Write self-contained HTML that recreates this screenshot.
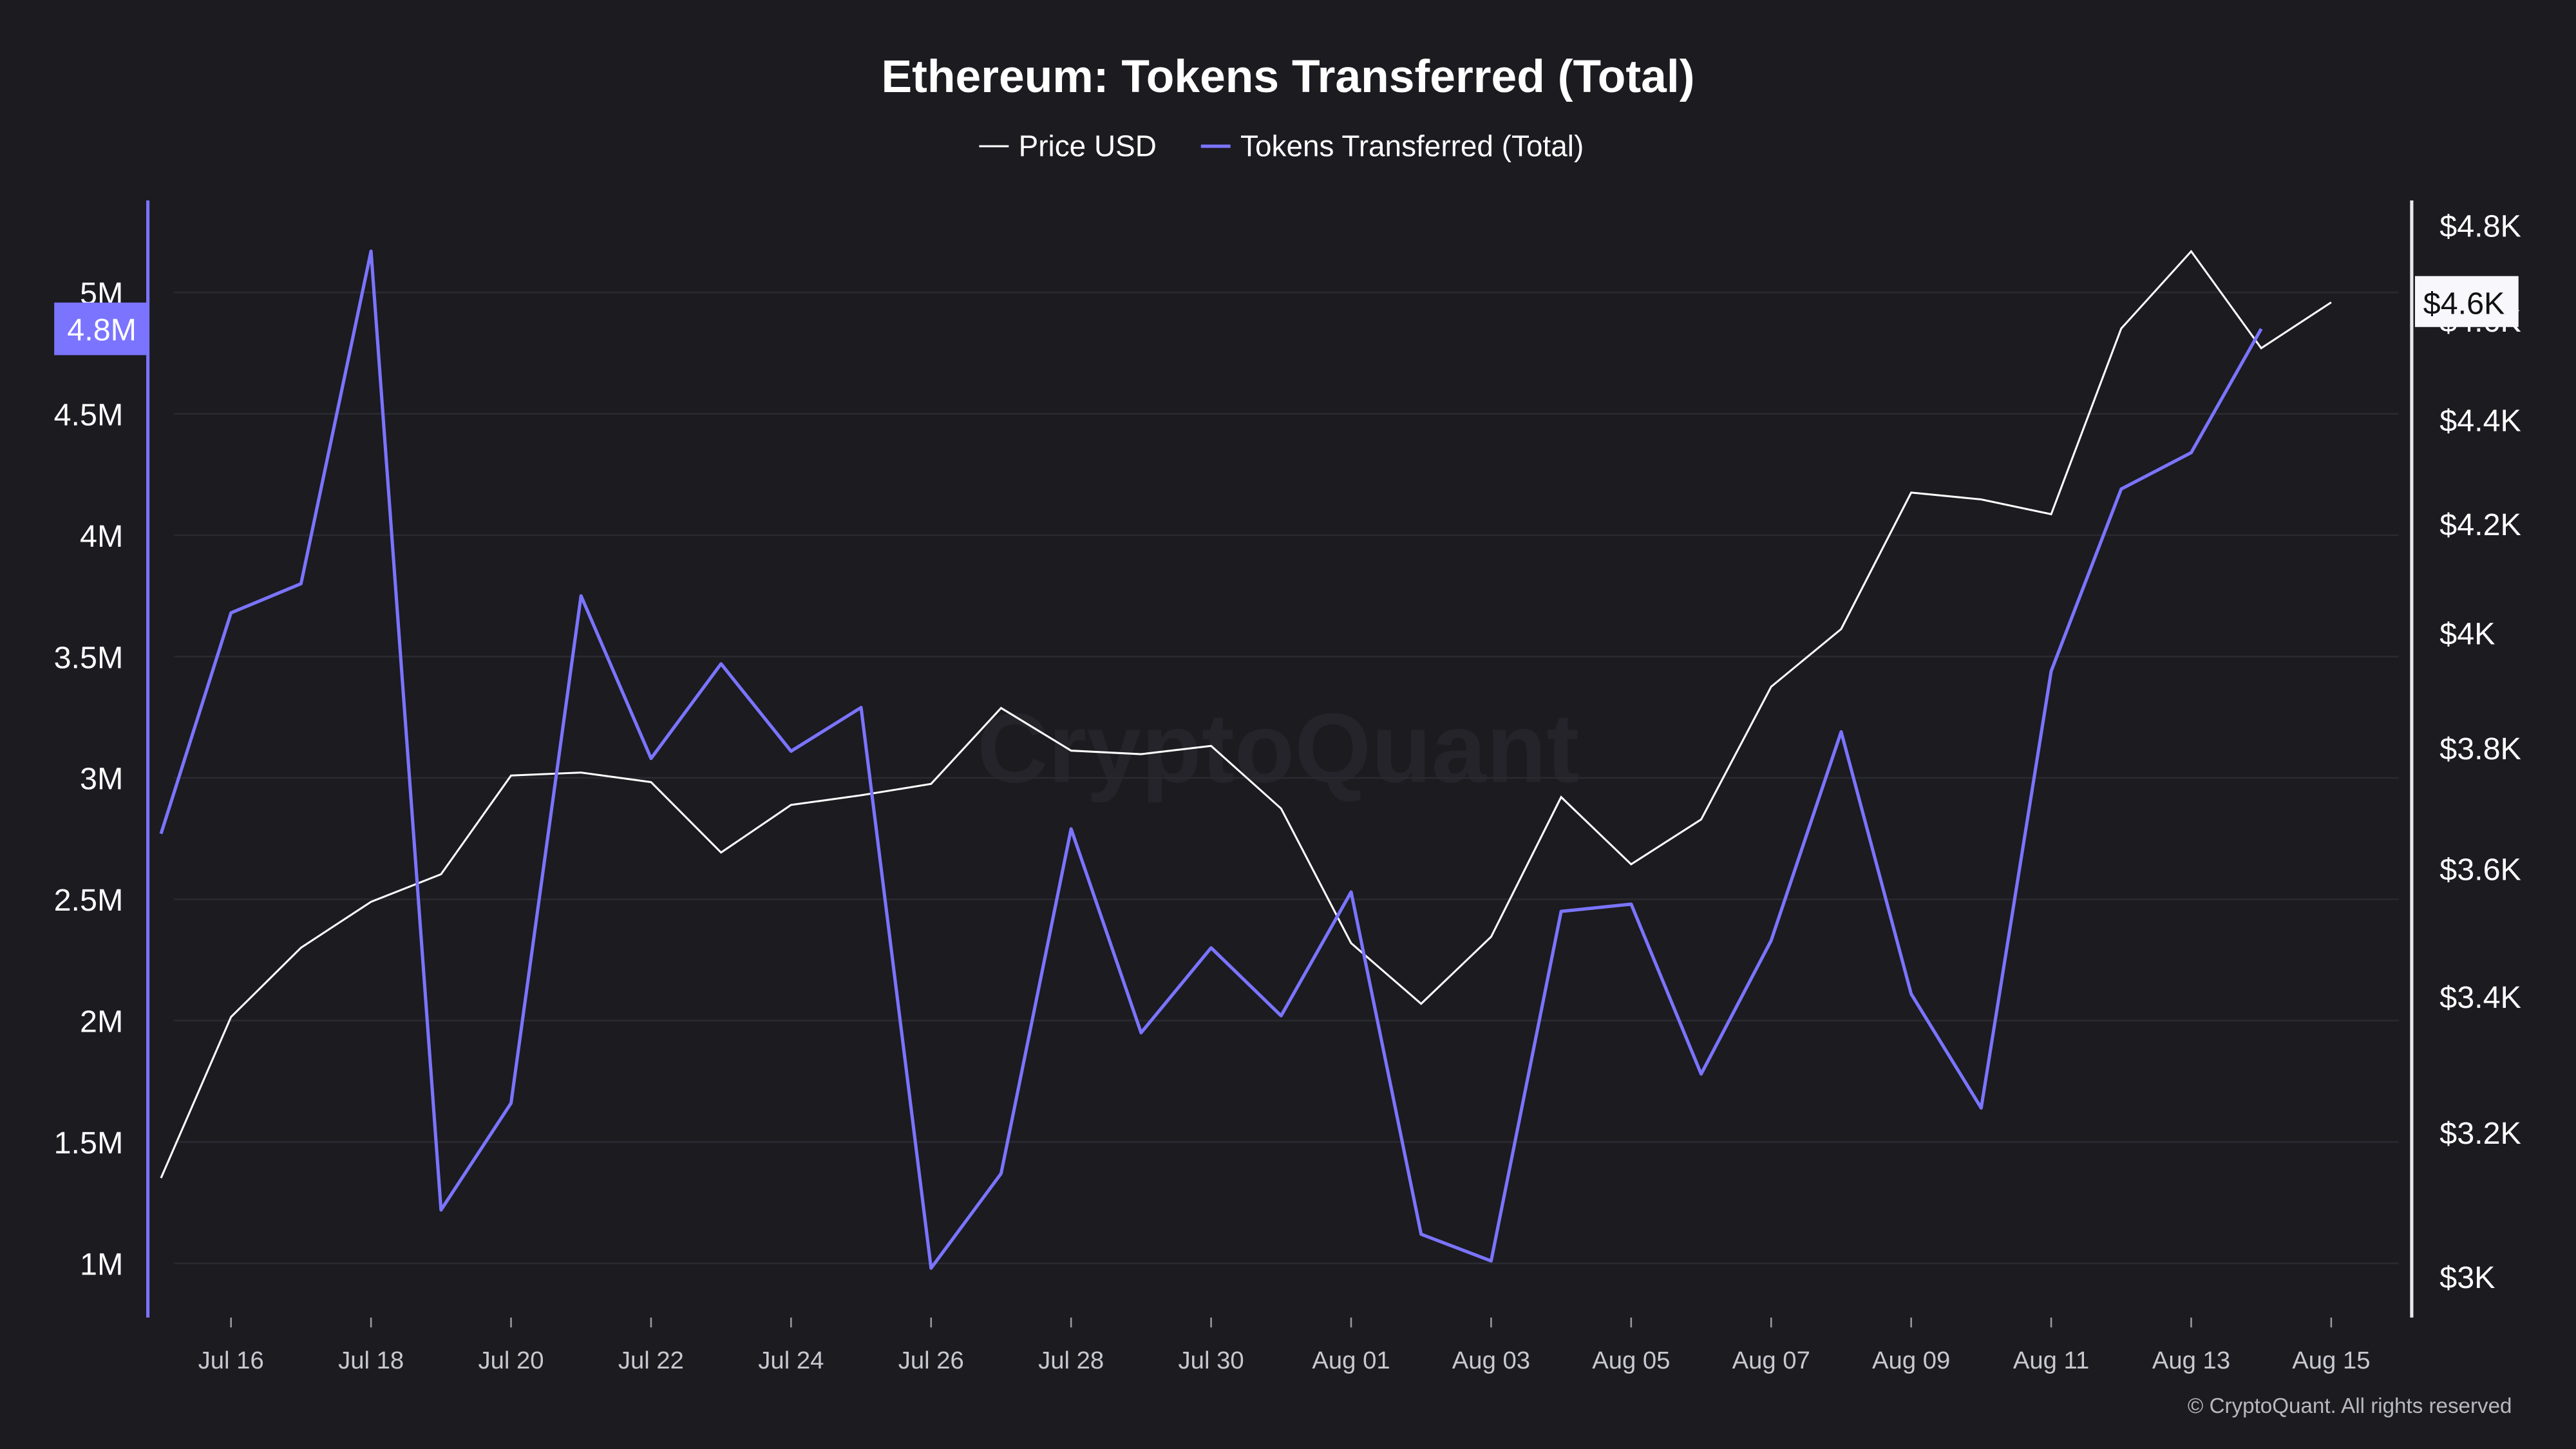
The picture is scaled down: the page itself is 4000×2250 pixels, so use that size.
<!DOCTYPE html>
<html><head><meta charset="utf-8"><style>
html,body{margin:0;padding:0;background:#1b1b20;}
svg{display:block;font-family:"Liberation Sans",sans-serif;}
</style></head><body>
<svg id="chart" width="4000" height="2250" viewBox="0 0 1568 882" xmlns="http://www.w3.org/2000/svg">
<rect x="0" y="0" width="1568" height="882" fill="#1b1b20"/>
<text x="784" y="56" text-anchor="middle" fill="#ffffff" font-size="28" font-weight="bold">Ethereum: Tokens Transferred (Total)</text>
<g>
<g><line x1="596" y1="89" x2="614" y2="89" stroke="#ffffff" stroke-width="1.2"/><text x="620" y="95" fill="#ffffff" font-size="18">Price USD</text></g>
<g><line x1="731" y1="89" x2="749" y2="89" stroke="#7b74ff" stroke-width="2"/><text x="755" y="95" fill="#ffffff" font-size="18">Tokens Transferred (Total)</text></g>
</g>
<text x="778" y="476" text-anchor="middle" fill="#24242a" font-size="60" font-weight="bold">CryptoQuant</text>
<g id="grid"></g>
<g id="lines"></g>
<g id="axes"></g>
<text x="1529" y="860" text-anchor="end" fill="#b8b8c0" font-size="13">© CryptoQuant. All rights reserved</text>
</svg>
<script>
const dates = ["Jul 15","Jul 16","Jul 17","Jul 18","Jul 19","Jul 20","Jul 21","Jul 22","Jul 23","Jul 24","Jul 25","Jul 26","Jul 27","Jul 28","Jul 29","Jul 30","Jul 31","Aug 01","Aug 02","Aug 03","Aug 04","Aug 05","Aug 06","Aug 07","Aug 08","Aug 09","Aug 10","Aug 11","Aug 12","Aug 13","Aug 14","Aug 15"];
const tokens = [2.77,3.68,3.80,5.17,1.22,1.66,3.75,3.08,3.47,3.11,3.29,0.98,1.37,2.79,1.95,2.30,2.02,2.53,1.12,1.01,2.45,2.48,1.78,2.33,3.19,2.11,1.64,3.44,4.19,4.34,4.85];
const price = [3.135,3.369,3.475,3.547,3.591,3.753,3.758,3.742,3.626,3.704,3.720,3.739,3.868,3.795,3.789,3.803,3.698,3.482,3.389,3.492,3.717,3.607,3.680,3.905,4.007,4.259,4.246,4.218,4.583,4.744,4.543,4.637];
const leftTicks = [1,1.5,2,2.5,3,3.5,4,4.5,5];
const leftTickLabels = ["1M","1.5M","2M","2.5M","3M","3.5M","4M","4.5M","5M"];
const rightTicks = [3,3.2,3.4,3.6,3.8,4,4.2,4.4,4.6,4.8];
const rightTickLabels = ["$3K","$3.2K","$3.4K","$3.6K","$3.8K","$4K","$4.2K","$4.4K","$4.6K","$4.8K"];
const xTickIdx = [1,3,5,7,9,11,13,15,17,19,21,23,25,27,29,31];

const NS="http://www.w3.org/2000/svg";
function xS(i){return 98+i*(1419-98)/31;}
function yL(v){return 769-(v-1)*(769-178)/4;}
function yR(v){return 137+Math.log(4.8/v)*1361.7;}
function mk(tag,attrs,parent,text){const e=document.createElementNS(NS,tag);for(const k in attrs)e.setAttribute(k,attrs[k]);if(text!==undefined)e.textContent=text;parent.appendChild(e);return e;}
const grid=document.getElementById('grid'),lines=document.getElementById('lines'),axes=document.getElementById('axes');

leftTicks.forEach((v,i)=>{
  const g=mk('line',{x1:106,x2:1460,y1:yL(v),y2:yL(v),stroke:'#2a2a31','stroke-width':1},grid);
  
  
  const t=mk('text',{x:75,y:yL(v)+7,'text-anchor':'end',fill:'#ffffff','font-size':19},axes,leftTickLabels[i]);
  
  
});
rightTicks.forEach((v,i)=>{
  const t=mk('text',{x:1485,y:yR(v)+7,fill:'#ffffff','font-size':19},axes,rightTickLabels[i]);
  
  
});
xTickIdx.forEach(i=>{
  const l=mk('line',{x1:xS(i),x2:xS(i),y1:802,y2:808,stroke:'#9a9aa3','stroke-width':1},axes);
  
  
  const t=mk('text',{x:xS(i),y:833,'text-anchor':'middle',fill:'#c8c8d0','font-size':15},axes,dates[i]);
  
  
});
const la=mk('line',{x1:90,x2:90,y1:122,y2:802,stroke:'#7b74ff','stroke-width':2},axes);


const ra=mk('line',{x1:1468,x2:1468,y1:122,y2:802,stroke:'#e8e8ee','stroke-width':2},axes);



const pp=mk('polyline',{points:price.map((v,i)=>xS(i)+','+yR(v)).join(' '),fill:'none',stroke:'#ffffff','stroke-width':1.2},lines);


const tp=mk('polyline',{points:tokens.map((v,i)=>xS(i)+','+yL(v)).join(' '),fill:'none',stroke:'#7b74ff','stroke-width':2,'stroke-linejoin':'round'},lines);



const lastT=tokens[tokens.length-1], lastP=price[price.length-1];
const lb=mk('rect',{x:33,y:yL(lastT)-16,width:57,height:32,fill:'#7b74ff'},axes);


const lbt=mk('text',{x:62,y:yL(lastT)+7,'text-anchor':'middle',fill:'#ffffff','font-size':19},axes,(Math.floor(lastT*10)/10)+'M');


const rb=mk('rect',{x:1470,y:yR(lastP)-16,width:63,height:31,fill:'#f7f7fc'},axes);


const rbt=mk('text',{x:1475,y:yR(lastP)+7,fill:'#111111','font-size':19},axes,'$'+(Math.round(lastP*10)/10)+'K');


</script>
</body></html>
